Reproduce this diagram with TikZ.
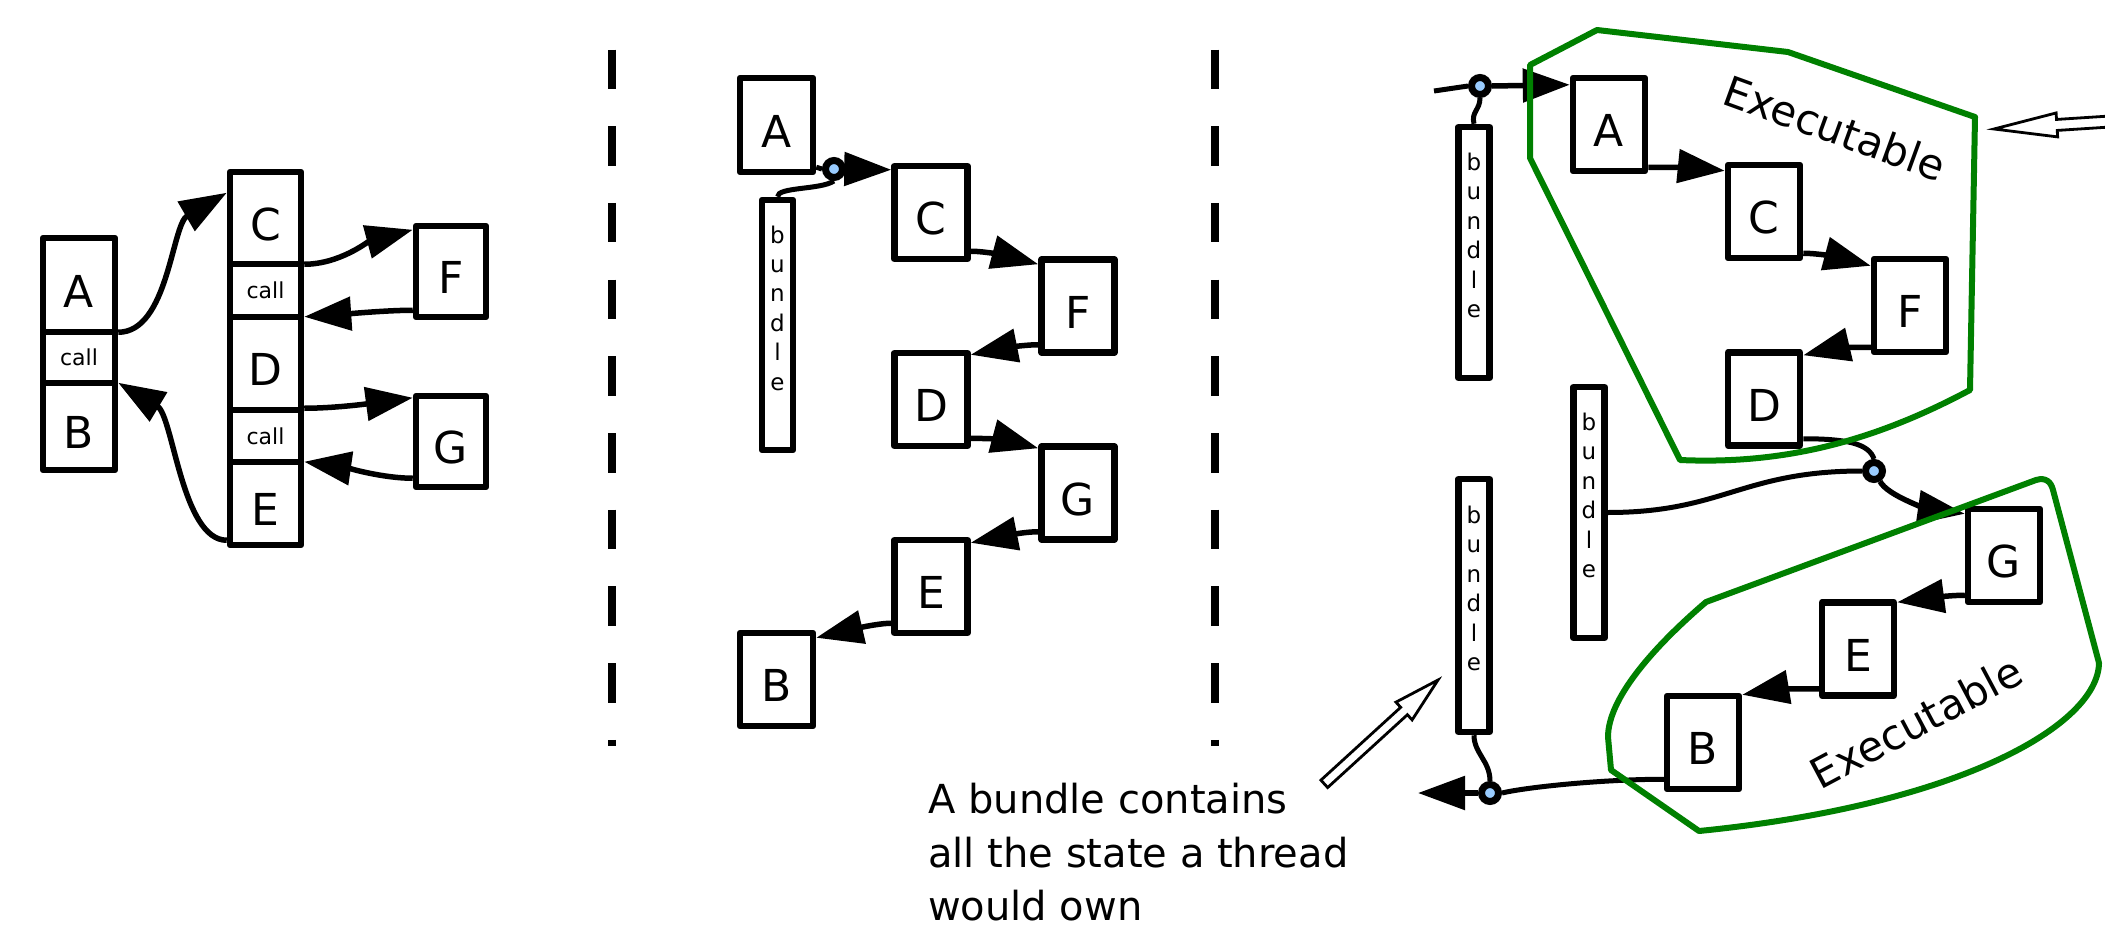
\documentclass[tikz,border=0pt]{standalone}
\usepackage{fontspec}
\setmainfont{DejaVu Sans}
\usetikzlibrary{arrows.meta,calc}
\definecolor{jointblue}{RGB}{153,204,255}
\definecolor{execgreen}{RGB}{0,128,0}

\begin{document}
\begin{tikzpicture}[x=1pt,y=-1pt,
  box/.style={draw, line width=6.5pt, line join=round, fill=white, inner sep=0pt,
    minimum width=73pt, minimum height=93pt, text height=44pt, text depth=0pt,
    font=\fontsize{44}{48}\selectfont},
  callbox/.style={draw, line width=6.5pt, line join=round, fill=white, inner sep=0pt,
    minimum width=72pt, font=\fontsize{22}{24}\selectfont},
  bundlebar/.style={draw, line width=6.5pt, line join=round, fill=white, inner sep=0pt,
    minimum width=31pt, minimum height=251pt},
  bundletext/.style={inner sep=0pt, align=center, font=\fontsize{23}{29.4}\selectfont},
  flow/.style={line width=5.5pt, -{Triangle[length=47pt,width=33pt]}},
  tieline/.style={line width=5pt},
  joint/.style={circle, draw, line width=7pt, fill=jointblue, minimum size=17pt, inner sep=0pt},
  execzone/.style={draw=execgreen, line width=6pt, line join=round},
  execlabel/.style={font=\fontsize{42}{48}\selectfont, inner sep=0pt},
  sepline/.style={line width=7.5pt, dash pattern=on 39.5pt off 37.2pt},
  hollow/.style={draw, line width=2.8pt, fill=white, line join=miter},
  notetext/.style={inner sep=0pt, align=left, font=\fontsize{40}{53.5}\selectfont},
]
\path[use as bounding box, fill=white] (0,0) rectangle (2105,924);

% ---------- conventional call stack ----------
\node[box, minimum width=72pt, minimum height=94pt] (A1) at (79,285) {A};
\node[callbox, minimum height=51pt] (callA) at (79,357.5) {call};
\node[box, minimum width=72pt, minimum height=87pt] (B1) at (79,426.5) {B};
\node[box, minimum width=71pt, minimum height=92pt] (C1) at (265.5,218) {C};
\node[callbox, minimum width=71pt, minimum height=53pt] (callC) at (265.5,290.5) {call};
\node[box, minimum width=71pt, minimum height=93pt] (D1) at (265.5,363.5) {D};
\node[callbox, minimum width=71pt, minimum height=52pt] (callD) at (265.5,436) {call};
\node[box, minimum width=71pt, minimum height=83pt] (E1) at (265.5,503.5) {E};
\node[box, minimum width=70pt, minimum height=91pt] (F1) at (451,271.5) {F};
\node[box, minimum width=70pt, minimum height=91pt] (G1) at (451,441.5) {G};

\draw[flow] ([yshift=3pt]A1.south east) .. controls +(50,0) and +(-55,32) .. ([yshift=-24pt]C1.north west);
\draw[flow] ([yshift=3pt]C1.south east) .. controls +(35,0) and +(-45,12) .. ([yshift=-7pt]F1.north west);
\draw[flow] ([yshift=10pt]F1.south west) .. controls +(-25,0) and +(45,-3) .. ([yshift=-3pt]D1.north east);
\draw[flow] ([yshift=5pt]D1.south east) .. controls +(30,0) and +(-45,6) .. ([yshift=-5pt]G1.north west);
\draw[flow] ([yshift=12pt]G1.south west) .. controls +(-30,0) and +(42,6) .. ([yshift=-3pt]E1.north east);
\draw[flow] ([yshift=8pt]E1.south west) .. controls +(-45,0) and +(55,33) .. ([yshift=-3pt]B1.north east);

% ---------- separators ----------
\coordinate (sepAtop) at (612,49.5);
\coordinate (sepAbot) at (612,746);
\coordinate (sepBtop) at (1215,49.5);
\coordinate (sepBbot) at (1215,746);
\draw[sepline] (sepAtop) -- (sepAbot);
\draw[sepline] (sepBtop) -- (sepBbot);

% ---------- frames with a bundle ----------
\node[box, minimum height=94pt] (A2) at (776.5,125) {A};
\node[box] (C2) at (931,212.5) {C};
\node[box] (F2) at (1078,306) {F};
\node[box] (D2) at (931,399.5) {D};
\node[box] (G2) at (1078,493) {G};
\node[box] (E2) at (931,586.5) {E};
\node[box] (B2) at (776.5,679.5) {B};
\node[bundlebar, minimum height=250pt] (bp) at (777.5,325) {};
\node[bundletext] (bpt) at ([yshift=17pt]bp.center) {b\\u\\n\\d\\l\\e};
\node[joint] (jp) at (834,169) {};

\draw[tieline] ([yshift=8pt]A2.south east) -- (jp.west);
\draw[flow] (jp.east) -- ([yshift=-7pt]C2.north west);
\draw[tieline] (bp.north) .. controls +(0,-10) and +(-14,9) .. (jp.south);
\draw[flow] ([yshift=11pt]C2.south east) .. controls +(15,0) and +(-30,-8) .. ([yshift=-8pt]F2.north west);
\draw[flow] ([yshift=11pt]F2.south west) .. controls +(-15,0) and +(30,-6) .. ([yshift=-5pt]D2.north east);
\draw[flow] ([yshift=11pt]D2.south east) .. controls +(15,0) and +(-30,-8) .. ([yshift=-5pt]G2.north west);
\draw[flow] ([yshift=11pt]G2.south west) .. controls +(-15,0) and +(30,-6) .. ([yshift=-6pt]E2.north east);
\draw[flow] ([yshift=13pt]E2.south west) .. controls +(-15,0) and +(30,-7) .. ([yshift=-8pt]B2.north east);

% ---------- executables and bundles ----------
\node[box, minimum width=72pt] (A3) at (1609,124.5) {A};
\node[box, minimum width=72pt] (C3) at (1764,211.5) {C};
\node[box, minimum width=72pt] (F3) at (1910,305.5) {F};
\node[box, minimum width=72pt] (D3) at (1764,399) {D};
\node[box, minimum width=72pt] (G3) at (2004,555.5) {G};
\node[box, minimum width=72pt] (E3) at (1858,649) {E};
\node[box, minimum width=72pt] (B3) at (1703,742.5) {B};

\node[bundlebar] (b1) at (1474,252.5) {};
\node[bundletext] (b1t) at ([yshift=17pt]b1.center) {b\\u\\n\\d\\l\\e};
\node[bundlebar] (b2) at (1589,512.5) {};
\node[bundletext] (b2t) at ([yshift=17pt]b2.center) {b\\u\\n\\d\\l\\e};
\node[bundlebar, minimum height=253pt] (b3) at (1474,605.5) {};
\node[bundletext] (b3t) at ([yshift=17pt]b3.center) {b\\u\\n\\d\\l\\e};

\node[joint] (j1) at (1480,86) {};
\node[joint] (j2) at (1874,471) {};
\node[joint] (j3) at (1490,793) {};
\coordinate (in3) at (1434,91);
\coordinate (out3) at (1418,793);

\draw[tieline] (in3) -- (j1.west);
\draw[flow] (j1.east) -- ([yshift=-10pt]A3.north west);
\draw[tieline] (b1.north) .. controls +(-3,-12) and +(0,12) .. (j1.south);
\draw[flow] ([yshift=7pt]A3.south east) .. controls +(15,0) and +(-30,-3) .. ([yshift=-9pt]C3.north west);
\draw[flow] ([yshift=8pt]C3.south east) .. controls +(15,0) and +(-30,-8) .. ([yshift=-10pt]F3.north west);
\draw[flow] ([yshift=8pt]F3.south west) .. controls +(-15,0) and +(30,-7) .. ([yshift=-6pt]D3.north east);
\draw[tieline] ([yshift=10pt]D3.south east) .. controls +(45,0) and +(-5,-15) .. (j2.north);
\draw[tieline] (b2.east) .. controls +(115,0) and +(-120,0) .. (j2.west);
\draw[flow] (j2.-60) .. controls +(8,15) and +(-35,-5) .. ([yshift=-8pt]G3.north west);
\draw[flow] ([yshift=10pt]G3.south west) .. controls +(-15,0) and +(30,-4) .. ([yshift=-3pt]E3.north east);
\draw[flow] ([yshift=10pt]E3.south west) .. controls +(-15,0) and +(30,-5) .. ([yshift=-2pt]B3.north east);
\draw[tieline] ([yshift=13pt]B3.south west) .. controls +(-60,0) and +(25,-6) .. (j3.east);
\draw[flow] (j3.west) -- (out3);
\draw[tieline] (b3.south) .. controls +(0,18) and +(0,-20) .. (j3.north);

% executable regions
\draw[execzone] (1530,65) -- (1597,30) -- (1788,52) -- (1975,117) -- (1970,390)
  .. controls (1880,438) and (1790,465) .. (1680,460) -- (1530,158) -- cycle;
\draw[execzone] (1706,602) -- (2036,480) .. controls (2046,477) and (2051,482) .. (2053,490)
  -- (2099,663) .. controls (2098,725) and (1960,805) .. (1699,831) -- (1611,770) -- (1608,737)
  .. controls (1608,700) and (1650,650) .. (1706,602) -- cycle;
\node[execlabel, rotate=-20] (exec1) at (1835,128) {Executable};
\node[execlabel, rotate=28] (exec2) at (1916,722) {Executable};

% hollow pointer arrows
\coordinate (hintA) at (1994,129);
\begin{scope}[shift={(hintA)}, rotate=3.7]
  \draw[hollow] (0pt,0pt) -- (63pt,12pt) -- (63pt,5.5pt) -- (135pt,5.5pt) -- (135pt,-5.5pt)
    -- (63pt,-5.5pt) -- (63pt,-12pt) -- cycle;
\end{scope}
\coordinate (hintB) at (1438,680);
\begin{scope}[shift={(hintB)}, rotate=-137.6]
  \draw[hollow] (0pt,0pt) -- (46pt,12pt) -- (46pt,5pt) -- (154pt,5pt) -- (154pt,-5pt)
    -- (46pt,-5pt) -- (46pt,-12pt) -- cycle;
\end{scope}

\node[notetext, anchor=north west] (note) at (928,783) {A bundle contains\\all the state a thread\\would own};
\end{tikzpicture}
\end{document}
